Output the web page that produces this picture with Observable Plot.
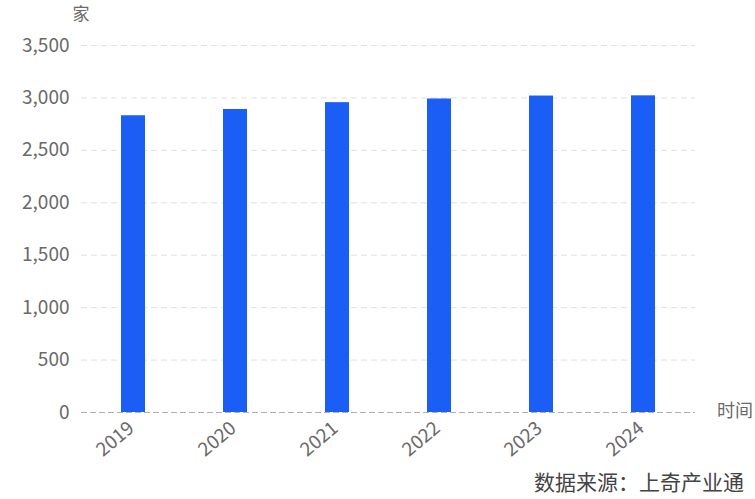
<!DOCTYPE html>
<html><head><meta charset="utf-8">
<script src="https://cdn.jsdelivr.net/npm/d3@7"></script>
<script src="https://cdn.jsdelivr.net/npm/@observablehq/plot@0.6"></script>
<style>
body{margin:0;background:#fff;}
#chart svg{font-family:"Noto Sans CJK SC","Noto Sans",sans-serif;}
</style>
</head><body><div id="chart"></div>
<script>
const years = ["2019","2020","2021","2022","2023","2024"];
const counts = [2830, 2890, 2955, 2990, 3018, 3020];
const yTicks = [0,500,1000,1500,2000,2500,3000,3500];
const yUnit = "家";
const xUnit = "时间";
const source = "数据来源：上奇产业通";

const data = years.map((y,i)=>({year:y, count:counts[i]}));
const font = "'Noto Sans CJK SC','Noto Sans',sans-serif";

const chart = Plot.plot({
  width: 755, height: 499,
  marginLeft: 81, marginRight: 60, marginTop: 45, marginBottom: 87,
  style: {fontFamily: font, fontSize: "19px", color: "#666", background: "#fff"},
  x: {domain: years, paddingInner: 0.765, paddingOuter: 0.3825, label: null, axis: null},
  y: {domain: [0,3500], label: null},
  marks: [
    Plot.gridY(yTicks.filter(d=>d>0), {stroke:"#dde1e6", strokeOpacity:1, strokeDasharray:"6,4"}),
    Plot.barY(data, {x:"year", y:"count", fill:"#1a5ef5"}),
    Plot.ruleY([0], {stroke:"#b0b0b0", strokeDasharray:"6,3"}),
    Plot.axisY({ticks: yTicks, tickFormat: d3.format(","), tickSize: 0, tickPadding: 12, fontSize: 19, fill:"#6a6a6a", label:null}),
    Plot.text(years, {x: d=>d, frameAnchor: "bottom", text: d=>d, rotate: -40, textAnchor: "end", lineAnchor: "middle", dx: -2, dy: 13, fontSize: 19, fill: "#6a6a6a"})
  ]
});

const svg = d3.select(chart);
const add = (txt,x,y,size,fill,anchor)=>{
  svg.append("text").attr("x",x).attr("y",y).attr("font-size",size).attr("fill",fill)
    .attr("text-anchor",anchor).attr("dominant-baseline","middle")
    .attr("font-family",font).text(txt);
};
add(yUnit, 81, 15, 17, "#6a6a6a", "middle");
add(xUnit, 717, 412, 18, "#6a6a6a", "start");
add(source, 744, 484, 21, "#444", "end");
document.getElementById("chart").appendChild(chart);
</script>
</body></html>
